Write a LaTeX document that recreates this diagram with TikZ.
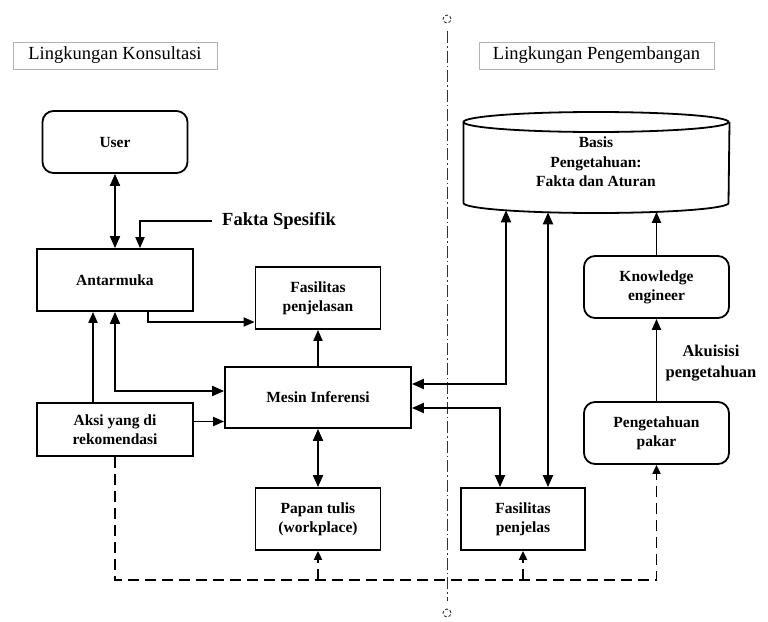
\documentclass[tikz,border=0pt]{standalone}
\usepackage{fontspec}
\setmainfont{Liberation Serif}
\usetikzlibrary{arrows.meta}

\begin{document}
\begin{tikzpicture}[x=1pt,y=-1pt,
	box/.style={draw,fill=white,line width=1.8pt,align=center,inner sep=0pt,font=\bfseries\fontsize{15.5}{19}\selectfont},
	rbox/.style={box,rounded corners=11pt},
	lbl/.style={draw=gray!60,line width=0.8pt,minimum height=27pt,inner sep=0pt,font=\fontsize{18.5}{22}\selectfont},
	garis/.style={line width=1.9pt},
	panah/.style={-{Triangle[length=11pt,width=9pt]}},
	panahdua/.style={{Triangle[length=12pt,width=10pt]}-{Triangle[length=12pt,width=10pt]}},
	putus/.style={line width=1.9pt,dash pattern=on 11pt off 6pt,-{Triangle[length=9pt,width=8pt]}},
	ujung/.style={circle,draw=gray!40!black,line width=0.9pt,dash pattern=on 3pt off 2pt,inner sep=0pt,minimum size=8pt}]
					\useasboundingbox (0,0) rectangle (768,621);
					\coordinate (b1) at (506,210.3);
					\coordinate (b2) at (548,212.3);
					\coordinate (b3) at (656.5,211.9);
					\coordinate (lantai) at (0,580);
					
					\node (atas) at (447,19) [ujung] {};
					\node (bawah) at (447,613) [ujung] {};
					\draw[gray!40!black,line width=0.9pt,dash pattern=on 12pt off 3pt on 1.5pt off 3pt,shorten <=8pt,shorten >=8pt] (atas) -- (bawah);
					
					\node (konsul) at (115,55.5) [lbl,minimum width=204pt] {Lingkungan Konsultasi};
					\node (kembang) at (596.5,55.5) [lbl,minimum width=235pt] {Lingkungan Pengembangan};
					
					\node (user) at (115,142) [rbox,minimum width=145pt,minimum height=62pt] {User};
					\node (antarmuka) at (115,280) [box,minimum width=156pt,minimum height=62pt] {Antarmuka};
					\node (fakta) at (222,221) [anchor=west,inner sep=0pt,font=\bfseries\fontsize{18.5}{22}\selectfont] {Fakta Spesifik};
					\node (fpjlsn) at (318,298) [box,minimum width=125pt,minimum height=62pt] {Fasilitas\\penjelasan};
					\node (mesin) at (318,397.5) [box,minimum width=186pt,minimum height=61pt] {Mesin Inferensi};
					\node (aksi) at (115,429.5) [box,minimum width=156pt,minimum height=53pt] {Aksi yang di\\rekomendasi};
					\node (papan) at (318,519) [box,minimum width=125pt,minimum height=62pt] {Papan tulis\\(workplace)};
					\node (fpjls) at (523,519) [box,minimum width=124pt,minimum height=62pt] {Fasilitas\\penjelas};
					\node (ke) at (656.5,287) [rbox,minimum width=145pt,minimum height=62pt] {Knowledge\\engineer};
					\node (pakar) at (656.5,433) [rbox,minimum width=145pt,minimum height=62pt] {Pengetahuan\\pakar};
					\node (akuisisi) at (711,363) [align=center,font=\bfseries\fontsize{16.5}{21.5}\selectfont] {Akuisisi\\pengetahuan};
					
					\draw[line width=1.8pt,fill=white] (463.5,122) -- (463.5,203) arc[start angle=180,end angle=360,x radius=132.5pt,y radius=10pt] -- (729.5,122);
					\draw[line width=1.8pt,fill=white] (596,122) ellipse [x radius=132.5pt,y radius=10pt];
					\node (basis) at (596,162) [align=center,font=\bfseries\fontsize{15.5}{19.5}\selectfont] {Basis\\Pengetahuan:\\Fakta dan Aturan};
					
					\draw[garis,panahdua] (user.south) -- (antarmuka.north);
					\draw[garis,panah] ([xshift=-10pt]fakta.west) -| ([xshift=25pt]antarmuka.north);
					\draw[garis,panah] ([xshift=33pt]antarmuka.south) |- ([yshift=-24pt]fpjlsn.west);
					\draw[garis,panah] (mesin.north) -- (fpjlsn.south);
					\draw[garis,panah] ([xshift=-22pt]aksi.north) -- ([xshift=-22pt]antarmuka.south);
					\draw[garis,panahdua] (antarmuka.south) |- ([yshift=6.5pt]mesin.west);
					\draw[garis,panah] ([yshift=8pt]aksi.east) -- ([yshift=8pt]aksi.east -| mesin.west);
					\draw[garis,panahdua] (mesin.south) -- (papan.north);
					\draw[garis,panahdua] (b1) |- ([yshift=13.5pt]mesin.east);
					\draw[garis,panahdua] ([yshift=-10.5pt]mesin.east) -| ([xshift=-23pt]fpjls.north);
					\draw[garis,panahdua] (b2) -- (b2 |- fpjls.north);
					\draw[garis,panah] (ke.north) -- (b3);
					\draw[garis,panah] (pakar.north) -- (ke.south);
					
					\draw[putus] (aksi.south) |- (lantai -| pakar.south) -- (pakar.south);
					\draw[putus] (lantai -| papan.south) -- (papan.south);
					\draw[putus] (lantai -| fpjls.south) -- (fpjls.south);
				\end{tikzpicture}
\end{document}
